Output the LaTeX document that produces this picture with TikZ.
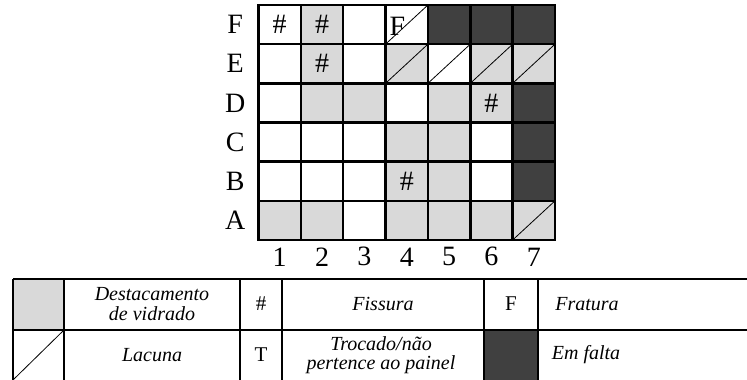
\documentclass[tikz,border=0pt]{standalone}
\usepackage{fontspec}
\setmainfont{Liberation Serif}
\usetikzlibrary{positioning}
\definecolor{destacgray}{HTML}{D9D9D9}
\definecolor{faltagray}{HTML}{404040}

\begin{document}
\begin{tikzpicture}[x=1pt, y=1pt,
        every node/.style={inner sep=0pt},
        destac/.style={fill=destacgray},
        falta/.style={fill=faltagray},
        lacuna/.style={line width=0.8pt},
        gridline/.style={line width=2.4pt, line cap=rect},
        legline/.style={line width=1.8pt},
        gridlbl/.style={font=\fontsize{28}{28}\selectfont},
        legtext/.style={font=\fontsize{20}{19.5}\selectfont\itshape, align=center},
        legsym/.style={font=\fontsize{21}{19}\selectfont}
    ]
    \useasboundingbox (0,0) rectangle (747,380);
%
    % Panel grid (columns 1-7, rows A-F)
    \begin{scope}[shift={(258.5,140)}, x=42.36pt, y=39.17pt]
        \foreach \c/\r in {2/6,2/5,4/5,6/5,7/5,2/4,3/4,5/4,6/4,4/3,5/3,4/2,5/2,1/1,2/1,4/1,5/1,6/1,7/1}
            \fill[destac] (\c-1,\r-1) rectangle ++(1,1);
        \foreach \c/\r in {5/6,6/6,7/6,7/4,7/3,7/2}
            \fill[falta] (\c-1,\r-1) rectangle ++(1,1);
        \foreach \c/\r in {4/6,4/5,5/5,6/5,7/5,7/1}
            \draw[lacuna] (\c-1,\r-1) -- ++(1,1);
        \foreach \c in {0,...,7}
            \draw[gridline] (\c,0) -- (\c,6);
        \foreach \r in {0,...,6}
            \draw[gridline] (0,\r) -- (7,\r);
%
        % Row and column labels
        \foreach \l [count=\r] in {A,B,C,D,E,F}
            \node[gridlbl] (row\l) at (-0.55,\r-0.5) {\l};
        \foreach \c in {1,...,7}
            \node[gridlbl] (col\c) at (\c-0.5,-0.43) {\c};
%
        % Marks
        \foreach \c/\r [count=\i] in {1/6,2/6,2/5,6/4,4/2}
            \node[gridlbl] (fiss\i) at (\c-0.5,\r-0.5) {\#};
        \node[gridlbl] (frat1) at (3.28,5.45) {F};
    \end{scope}
%
    % Legend
    \fill[destac] (13,50) rectangle (64,101);
    \fill[falta] (484,0) rectangle (538,50);
    \draw[lacuna] (13,0) -- (64,50);
    \draw[legline] (13,101) -- (747,101);
    \draw[legline] (13,50) -- (747,50);
    \foreach \x in {13,64,240,282,484,538}
        \draw[legline] (\x,0) -- (\x,101);
%
    \node[legtext] (destacamento) at (152,76) {Destacamento\\de vidrado};
    \node[legsym] (symfiss) at (261,76) {\#};
    \node[legtext] (fissura) at (383,76) {Fissura};
    \node[legsym] (symfrat) at (511,76) {F};
    \node[legtext] (fratura) at (587,76) {Fratura};
    \node[legtext] (lacunatxt) at (152,25) {Lacuna};
    \node[legsym] (symtroc) at (261,25) {T};
    \node[legtext] (trocado) at (381,25) {Trocado/não\\pertence ao painel};
    \node[legtext] (emfalta) at (586,25) {Em falta};
%
\end{tikzpicture}
\end{document}
